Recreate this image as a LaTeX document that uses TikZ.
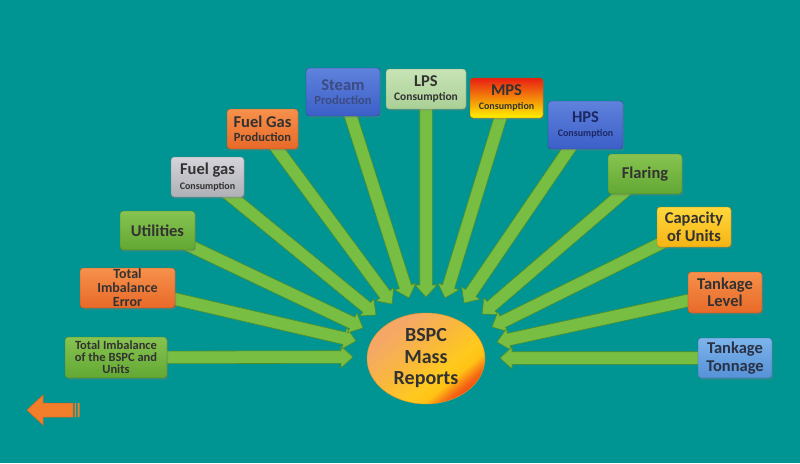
\documentclass[tikz,border=0pt]{standalone}
\usepackage{fontspec}
\setmainfont{Carlito}
\usetikzlibrary{calc,shadows,shapes.geometric}
\definecolor{bg}{RGB}{0,149,146}
\definecolor{agreen}{RGB}{120,190,66}
\definecolor{aedge}{RGB}{78,140,44}
\definecolor{txt}{RGB}{50,50,50}
\definecolor{backor}{RGB}{242,125,42}
\definecolor{backedge}{RGB}{215,100,30}
\newcommand\garrow[2]{%
  \coordinate (gA) at (#1.center);
  \coordinate (gB) at (#2);
  \coordinate (gC) at ($(gB)!12pt!(gA)$);
  \filldraw[fill=agreen, draw=aedge, line width=0.6pt, line join=miter]
    ($(gA)!6.3pt!90:(gB)$) -- ($(gC)!6.3pt!90:(gB)$) -- ($(gC)!11pt!90:(gB)$) --
    (gB) -- ($(gC)!11pt!-90:(gB)$) -- ($(gC)!6.3pt!-90:(gB)$) -- ($(gA)!6.3pt!-90:(gB)$) -- cycle;
}
\newcommand\sub[2]{{\fontsize{#1}{#1}\selectfont #2}}
\tikzset{
  box/.style={rounded corners=3pt, inner sep=0pt, align=center, font=\bfseries\fontsize{16.5}{17.5}\selectfont,
    text=txt, draw=#1!70!black, line width=0.3pt,
    drop shadow={shadow xshift=1.2pt, shadow yshift=-1.5pt, opacity=0.35}},
  gbox/.style={box=boxgreen, top color=boxgreenL, bottom color=boxgreen},
  obox/.style={box=boxorange, top color=boxorangeL, bottom color=boxorange},
}
\definecolor{boxgreen}{RGB}{98,168,52}
\definecolor{boxgreenL}{RGB}{135,195,80}
\definecolor{boxorange}{RGB}{232,105,40}
\definecolor{boxorangeL}{RGB}{246,145,75}
\definecolor{boxgray}{RGB}{175,175,182}
\definecolor{boxgrayL}{RGB}{212,212,218}
\definecolor{boxblue}{RGB}{60,95,200}
\definecolor{boxblueL}{RGB}{95,130,220}
\definecolor{boxlps}{RGB}{170,208,150}
\definecolor{boxlpsL}{RGB}{200,228,182}
\definecolor{boxgold}{RGB}{246,180,20}
\definecolor{boxgoldL}{RGB}{255,215,60}
\definecolor{boxlb}{RGB}{85,145,215}
\definecolor{boxlbL}{RGB}{125,180,235}
\definecolor{mpsR}{RGB}{232,30,20}
\definecolor{mpsO}{RGB}{250,160,10}
\definecolor{mpsY}{RGB}{255,242,0}
\definecolor{ellE}{RGB}{225,150,40}
\definecolor{steamT}{RGB}{60,75,130}
\definecolor{hpsT}{RGB}{28,40,100}
\definecolor{ttT}{RGB}{40,50,70}
\pgfdeclarehorizontalshading{hubshade}{100bp}{%
  rgb(0bp)=(0.96,0.66,0.40); rgb(30bp)=(0.96,0.66,0.40); rgb(48bp)=(0.98,0.73,0.22);
  rgb(60bp)=(1,0.79,0.12); rgb(66bp)=(1,0.76,0.08); rgb(72bp)=(0.96,0.40,0.08);
  rgb(77bp)=(0.93,0.25,0.06); rgb(100bp)=(0.93,0.25,0.06)}
\begin{document}
\begin{tikzpicture}[x=1pt,y=-1pt]
\fill[bg] (0,0) rectangle (800,463);
\useasboundingbox (0,0) rectangle (800,463);

% box centres
\path (116,357.5) coordinate (c1) (127.5,288) coordinate (c2) (157.5,230.5) coordinate (c3)
      (207.5,177) coordinate (c4) (262.5,129) coordinate (c5) (343,92) coordinate (c6)
      (426,89) coordinate (c7) (506.5,98) coordinate (c8) (585.5,125) coordinate (c9)
      (645,174) coordinate (c10) (694,227) coordinate (c11) (725,292.5) coordinate (c12)
      (735,358) coordinate (c13);

% centre ellipse
\node[ellipse, minimum width=118pt, minimum height=91pt, inner sep=0pt,
  shading=hubshade, shading angle=-50,
  draw=ellE, line width=0.4pt,
  align=center, font=\bfseries\fontsize{20}{21.5}\selectfont, text=txt] (hub) at (426,358.5)
  {BSPC\\Mass\\Reports};

% arrow tips
\path (353,357) coordinate (t1) (356,341) coordinate (t2) (363,328) coordinate (t3)
      (376,315) coordinate (t4) (392,304) coordinate (t5) (409,298) coordinate (t6)
      (426,297) coordinate (t7) (445,298) coordinate (t8) (464,303) coordinate (t9)
      (482,314) coordinate (t10) (492,327) coordinate (t11) (497,342) coordinate (t12)
      (500,358) coordinate (t13);

\foreach \i in {1,...,13} {\garrow{c\i}{t\i}}

% boxes
\node[gbox, minimum width=102pt, minimum height=41pt, font=\bfseries\fontsize{12.5}{12}\selectfont] (b1) at (c1) {Total Imbalance\\of the BSPC and\\Units};
\node[obox, minimum width=95pt, minimum height=40pt, font=\bfseries\fontsize{14}{14}\selectfont] (b2) at (c2) {Total\\Imbalance\\Error};
\node[gbox, minimum width=75pt, minimum height=39pt] (b3) at (c3) {Utilities};
\node[box=boxgray, top color=boxgrayL, bottom color=boxgray, minimum width=73pt, minimum height=40pt] (b4) at (c4) {Fuel gas\\[-3pt]\sub{10}{Consumption}};
\node[obox, minimum width=71pt, minimum height=40pt] (b5) at (c5) {Fuel Gas\\[-3pt]\sub{12.5}{Production}};
\node[box=boxblue, top color=boxblueL, bottom color=boxblue, text=steamT, minimum width=74pt, minimum height=48pt] (b6) at (c6) {Steam\\[-3pt]\sub{12.5}{Production}};
\node[box=boxlps, top color=boxlpsL, bottom color=boxlps, minimum width=80pt, minimum height=40pt] (b7) at (c7) {LPS\\[-3pt]\sub{11.5}{Consumption}};
\node[box=orange, top color=mpsR, middle color=mpsO, bottom color=mpsY, minimum width=73pt, minimum height=40pt] (b8) at (c8) {MPS\\[-4pt]\sub{10}{Consumption}};
\node[box=boxblue, top color=boxblueL, bottom color=boxblue, text=hpsT, minimum width=75pt, minimum height=48pt] (b9) at (c9) {HPS\\[-4pt]\sub{10}{Consumption}};
\node[gbox, minimum width=74pt, minimum height=40pt] (b10) at (c10) {Flaring};
\node[box=boxgold, top color=boxgoldL, bottom color=boxgold, minimum width=74pt, minimum height=40pt] (b11) at (c11) {Capacity\\of Units};
\node[obox, minimum width=74pt, minimum height=41pt] (b12) at (c12) {Tankage\\Level};
\node[box=boxlb, top color=boxlbL, bottom color=boxlb, text=ttT, minimum width=74pt, minimum height=40pt] (b13) at (c13) {Tankage\\Tonnage};

% back arrow
\filldraw[fill=backor, draw=backedge, line width=0.5pt]
  (27,410) -- (43,395) -- (43,403) -- (73,403) -- (73,417) -- (43,417) -- (43,425) -- cycle;
\fill[fill=backor] (74.5,403) rectangle (76,417) (77.5,403) rectangle (79.5,417);
\end{tikzpicture}
\end{document}
